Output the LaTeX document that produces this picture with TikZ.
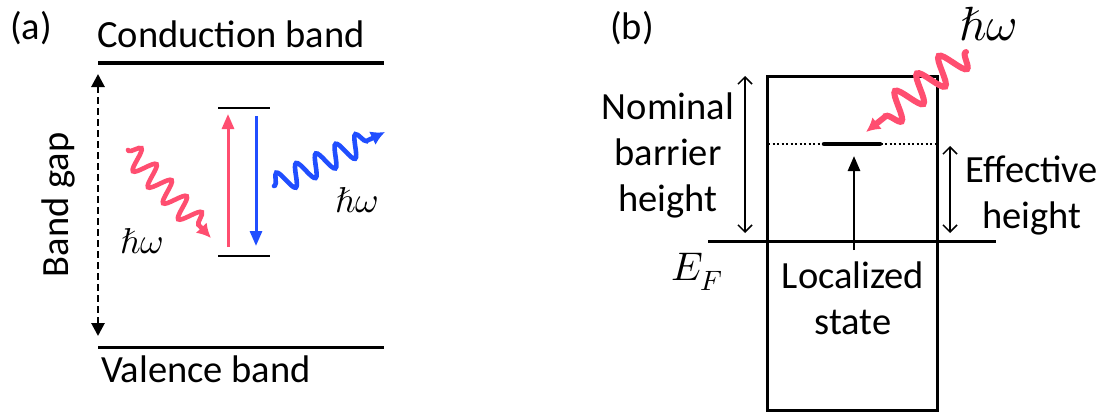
\documentclass[tikz,border=0pt]{standalone}
\usepackage{fontspec}
\usepackage{unicode-math}
\setmainfont{Carlito}
\setmathfont{Latin Modern Math}
\usetikzlibrary{arrows.meta,decorations.pathmorphing,positioning}
\definecolor{photonred}{RGB}{255,78,112}
\definecolor{photonblue}{RGB}{32,78,255}

\begin{document}
\begin{tikzpicture}[x=1pt,y=-1pt,
    every node/.style={font=\fontsize{38.5}{46}\selectfont,inner sep=0pt},
    band/.style={line width=3pt},
    level/.style={line width=2.6pt},
    photon/.style={line width=4.6pt,line cap=round,decorate,
      decoration={snake,amplitude=11pt,segment length=22pt,pre length=1pt,post length=13pt},
      -{Latex[length=14pt,width=15pt]}},
    trans/.style={line width=3pt,-{Triangle[length=15pt,width=12pt]}},
    height/.style={line width=1.5pt,{Straight Barb[length=7pt,width=14pt]}-{Straight Barb[length=7pt,width=14pt]}}]
  \useasboundingbox (0,0) rectangle (1110,412);

  % (a) band picture
  \node[anchor=base west] (labA) at (10,40) {(a)};
  \node[anchor=base west] (cbText) at (97,48) {Conduction band};
  \node[anchor=base west] (vbText) at (101,382) {Valence band};
  \coordinate (cbL) at (98,63);  \coordinate (cbR) at (384,63);
  \coordinate (vbL) at (98,347); \coordinate (vbR) at (384,347);
  \draw[band] (cbL) -- (cbR);
  \draw[band] (vbL) -- (vbR);
  \coordinate (gapTop) at (98,74); \coordinate (gapBot) at (98,336);
  \draw[line width=2.8pt,dash pattern=on 7pt off 4pt,
    {Triangle[length=13pt,width=13pt]}-{Triangle[length=13pt,width=13pt]}] (gapTop) -- (gapBot);
  \node[rotate=90,anchor=base] (gapText) at (68,205) {Band gap};

  \coordinate (upL) at (218,108); \coordinate (upR) at (270,108);
  \coordinate (loL) at (218,256); \coordinate (loR) at (270,256);
  \draw[level] (upL) -- (upR);
  \draw[level] (loL) -- (loR);
  \draw[trans,photonred] (228,247) -- (228,114);
  \draw[trans,photonblue] (256,116) -- (256,246);

  \coordinate (inA) at (128,150);  \coordinate (inB) at (211,238);
  \coordinate (outA) at (274,186); \coordinate (outB) at (385,132);
  \draw[photon,photonred] (inA) -- (inB);
  \draw[photon,photonblue] (outA) -- (outB);
  \node[font=\fontsize{36}{40}\selectfont] (hwIn) at (142,241) {$\hbar\omega$};
  \node[font=\fontsize{36}{40}\selectfont] (hwOut) at (357,200) {$\hbar\omega$};

  % (b) barrier picture
  \node[anchor=base west] (labB) at (610,40) {(b)};
  \draw[band] (767,76) rectangle (937,410);
  \coordinate (efL) at (708,241); \coordinate (efR) at (996,241);
  \draw[band] (efL) -- (efR);
  \node[font=\fontsize{40}{44}\selectfont] (efText) at (697,272) {$E_F$};

  \coordinate (dotL) at (768,144); \coordinate (dotR) at (935,144);
  \draw[line width=1.6pt,dash pattern=on 2pt off 2.5pt] (dotL) -- (dotR);
  \coordinate (locL) at (824,144); \coordinate (locR) at (880,144);
  \draw[line width=4.5pt,line cap=round] (locL) -- (locR);
  \coordinate (locBot) at (854,250); \coordinate (locTop) at (854,156);
  \draw[line width=2.6pt,-{Triangle[length=15pt,width=12pt]}] (locBot) -- (locTop);

  \coordinate (nomTop) at (745,76); \coordinate (nomBot) at (745,233);
  \draw[height] (nomTop) -- (nomBot);
  \coordinate (effTop) at (950,146); \coordinate (effBot) at (950,233);
  \draw[height] (effTop) -- (effBot);

  \node[align=center] (nomText) at (668,155) {Nominal\\barrier\\height};
  \node[align=center] (effText) at (1032,195) {Effective\\height};
  \node[align=center] (locText) at (853,298) {Localized\\state};

  \coordinate (bA) at (966,52); \coordinate (bB) at (866,132);
  \draw[photon,photonred,line width=6pt,
    decoration={snake,amplitude=14pt,segment length=28pt,pre length=1pt,post length=12pt}] (bA) -- (bB);
  \node[font=\fontsize{48}{52}\selectfont] (hwB) at (988,24) {$\hbar\omega$};
\end{tikzpicture}
\end{document}
